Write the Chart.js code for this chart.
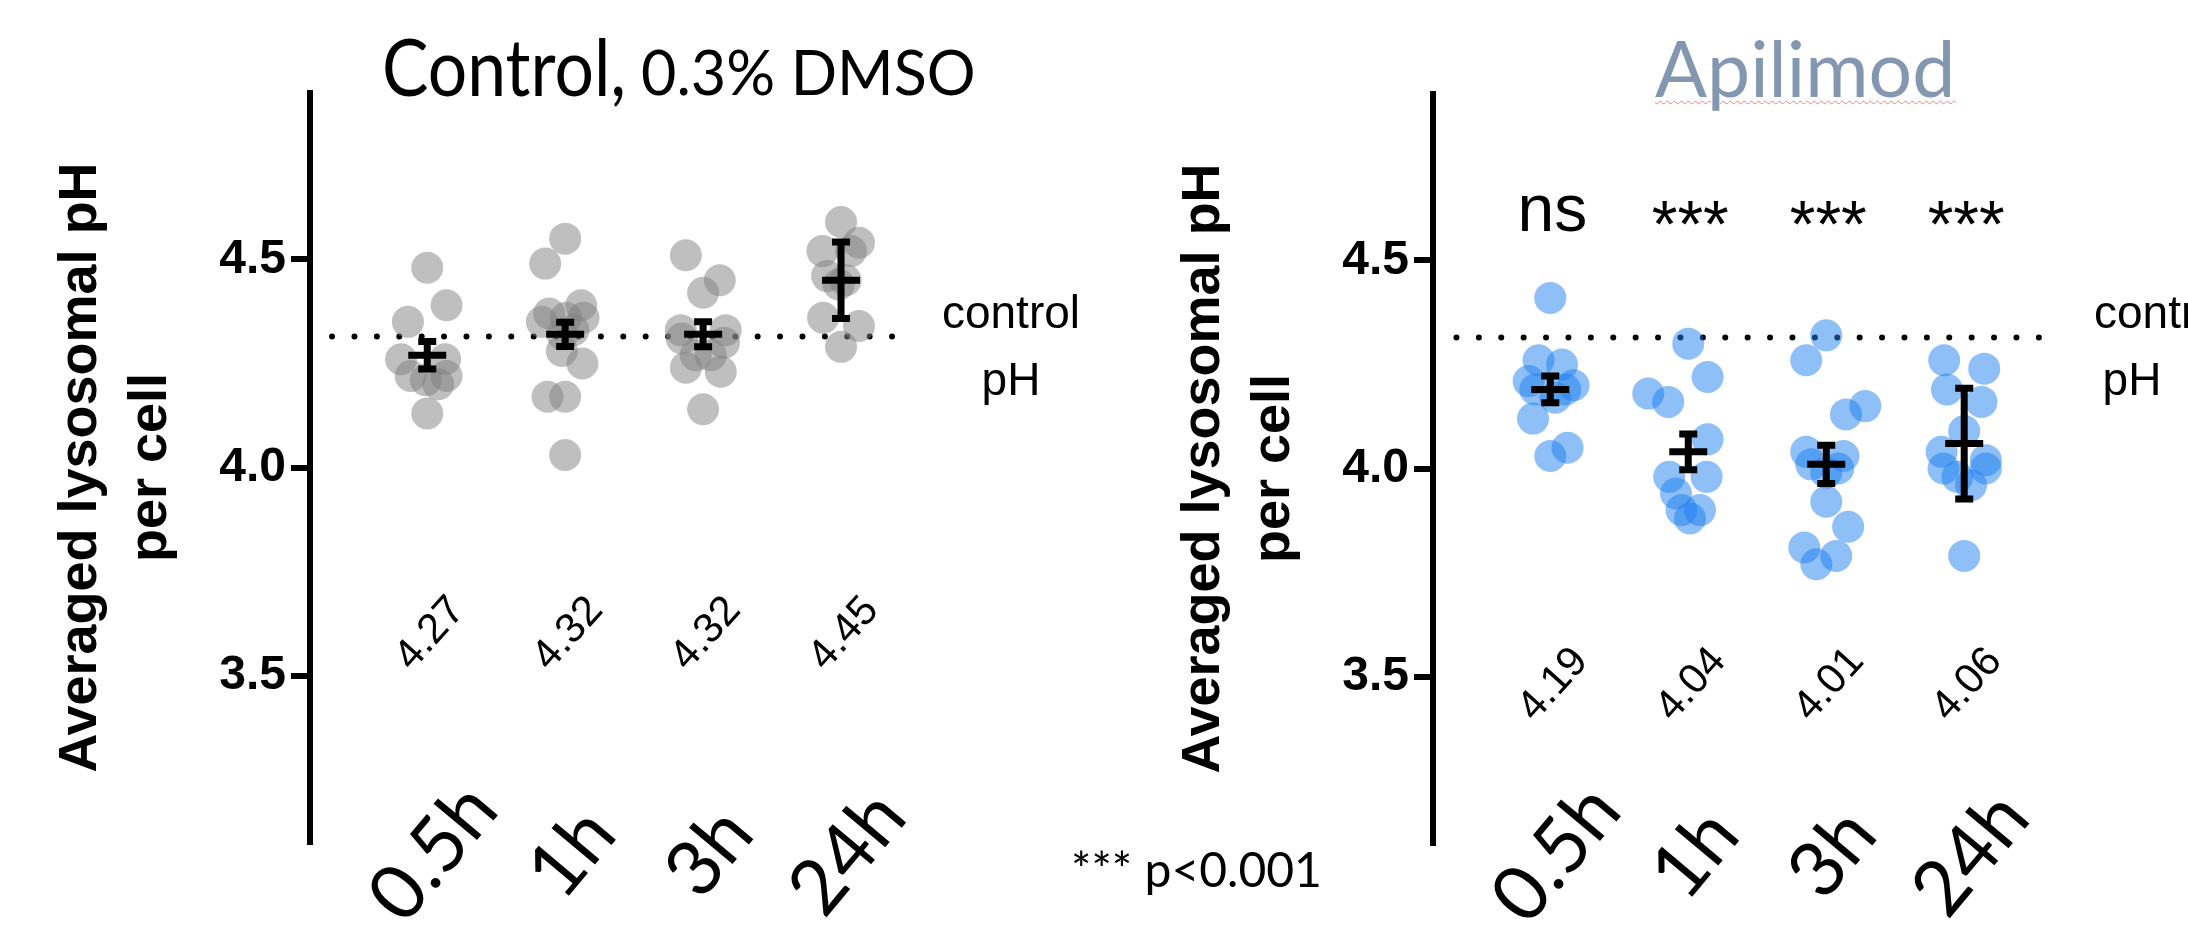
<!DOCTYPE html>
<html>
<head>
<meta charset="utf-8">
<script src="https://cdn.jsdelivr.net/npm/chart.js@4.4.1/dist/chart.umd.min.js"></script>
<style>
  html, body { margin: 0; padding: 0; background: #fff; }
  body { position: relative; width: 2188px; height: 936px; overflow: hidden; }
  canvas { position: absolute; top: 0; }
  #cvCtrl { left: 0; }
  #cvApi { left: 1123px; }
  .txt { position: absolute; white-space: nowrap; line-height: 1; color: #000; }
  .calibri { font-family: Lato, "Open Sans", sans-serif; }
  .helv { font-family: "Liberation Sans", Arial, sans-serif; }
</style>
</head>
<body>
<canvas id="cvCtrl" width="1100" height="936"></canvas>
<canvas id="cvApi" width="1065" height="936"></canvas>

<div class="txt calibri" style="left:382px; top:25px; font-size:80px; transform:scaleX(0.87); transform-origin:left;">Control,</div>
<div class="txt calibri" style="left:641px; top:41px; font-size:61px;">0.3% DMSO</div>
<div class="txt calibri" style="left:1655px; top:29px; font-size:77px; color:#8497b0; text-decoration:underline wavy #f08080; text-decoration-thickness:1px; text-underline-offset:3px;">Apilimod</div>

<div class="txt helv" style="left:911px; top:279px; width:200px; text-align:center; font-size:46px; line-height:67px;">control<br>pH</div>
<div class="txt helv" style="left:2094px; top:279px; font-size:46px; line-height:67px;">control</div>
<div class="txt helv" style="left:2032px; top:346px; width:200px; text-align:center; font-size:46px; line-height:67px;">pH</div>

<div class="txt calibri" style="left:1071px; top:845px; font-size:48px;">*** p&lt;0.001</div>

<script>
const times = ['0.5h', '1h', '3h', '24h'];
const yTicks = [3.5, 4.0, 4.5];
const controlPH = 4.315;

// Control, 0.3% DMSO - pH of each cell, and the sideways spread of its dot (in group widths)
const ctrlPH05 = [4.48, 4.39, 4.35, 4.26, 4.26, 4.22, 4.21, 4.20, 4.22, 4.13];
const ctrlDx05 = [0, 0.14, -0.14, -0.19, 0.13, -0.12, -0.01, 0.08, 0.14, 0];
const ctrlPH1  = [4.55, 4.49, 4.28, 4.25, 4.17, 4.17, 4.03, 4.37, 4.35, 4.32, 4.39, 4.36, 4.33, 4.36];
const ctrlDx1  = [0, -0.145, -0.024, 0.125, -0.128, 0, 0, -0.116, -0.169, -0.02, 0.116, 0.133, 0.06, 0.005];
const ctrlPH3  = [4.51, 4.45, 4.42, 4.33, 4.33, 4.31, 4.30, 4.27, 4.27, 4.24, 4.23, 4.14];
const ctrlDx3  = [-0.125, 0.121, 0, -0.162, 0.164, -0.154, 0.152, -0.053, 0.056, -0.125, 0.128, 0];
const ctrlPH24 = [4.59, 4.54, 4.52, 4.52, 4.46, 4.45, 4.44, 4.36, 4.34, 4.29];
const ctrlDx24 = [0, 0.13, -0.135, 0.072, -0.101, 0.034, -0.017, -0.13, 0.13, 0];
const ctrlMean = [4.27, 4.32, 4.32, 4.45];
const ctrlSem  = [0.033, 0.029, 0.030, 0.092];

// Apilimod
const apiPH05 = [4.41, 4.26, 4.25, 4.21, 4.20, 4.19, 4.19, 4.17, 4.12, 4.03, 4.05];
const apiDx05 = [0, -0.085, 0.085, -0.157, 0.169, -0.109, 0.109, 0.036, -0.125, 0, 0.125];
const apiPH1  = [4.30, 4.22, 4.18, 4.16, 4.07, 3.98, 3.98, 3.94, 3.90, 3.90, 3.88];
const apiDx1  = [0, 0.14, -0.29, -0.145, 0.14, -0.138, 0.133, -0.089, -0.049, 0.085, 0.012];
const apiPH3  = [4.32, 4.26, 4.15, 4.13, 4.04, 4.03, 4.01, 3.99, 4.00, 3.92, 3.86, 3.81, 3.79, 3.77];
const apiDx3  = [0, -0.145, 0.283, 0.143, -0.145, 0.125, -0.109, 0, 0.087, 0, 0.159, -0.159, 0.072, -0.072];
const apiPH24 = [4.26, 4.24, 4.19, 4.16, 4.09, 4.04, 4.02, 4.00, 4.00, 3.98, 3.96, 3.79];
const apiDx24 = [-0.145, 0.145, -0.125, 0.125, 0, -0.164, 0.157, -0.15, 0.157, -0.049, 0.049, 0];
const apiMean = [4.19, 4.04, 4.01, 4.06];
const apiSem  = [0.032, 0.043, 0.046, 0.133];
const apiSig  = ['ns', '***', '***', '***'];

function centeredText(ctx, text, x, y, deg, font) {
  ctx.save();
  ctx.font = font;
  ctx.textAlign = 'center';
  ctx.textBaseline = 'alphabetic';
  const m = ctx.measureText(text);
  ctx.translate(x, y);
  ctx.rotate(deg * Math.PI / 180);
  ctx.fillText(text, 0, (m.actualBoundingBoxAscent - m.actualBoundingBoxDescent) / 2);
  ctx.restore();
}

// mean +/- error bars, the tilted mean values, time labels and stars
const annotations = {
  id: 'annotations',
  afterDatasetsDraw(chart, args, o) {
    const { ctx, chartArea, scales: { x, y } } = chart;
    ctx.save();
    ctx.strokeStyle = '#000';
    ctx.fillStyle = '#000';
    o.means.forEach((m, i) => {
      const cx = x.getPixelForValue(i + 1);
      const hi = y.getPixelForValue(m + o.sem[i]);
      const lo = y.getPixelForValue(m - o.sem[i]);
      const my = y.getPixelForValue(m);
      ctx.lineWidth = 7;
      ctx.beginPath();
      ctx.moveTo(cx, hi); ctx.lineTo(cx, lo);
      ctx.moveTo(cx - 9, hi); ctx.lineTo(cx + 9, hi);
      ctx.moveTo(cx - 9, lo); ctx.lineTo(cx + 9, lo);
      ctx.moveTo(cx - 19, my); ctx.lineTo(cx + 19, my);
      ctx.stroke();

      centeredText(ctx, m.toFixed(2), cx + 1, y.getPixelForValue(o.meanLabelAt), -48, '42px "Liberation Sans"');
      centeredText(ctx, times[i], cx + 4, chartArea.bottom + 9, -50, '77px Lato');
      if (o.sig) centeredText(ctx, o.sig[i], cx + 2, chartArea.top + 119, 0, '66px "Liberation Sans"');
    });
    ctx.restore();
  }
};

function buildPanel(id, o) {
  const pts = o.vals.flatMap((vals, i) => vals.map((v, k) => ({ x: i + 1 + o.dx[i][k], y: v })));
  return new Chart(document.getElementById(id), {
    type: 'scatter',
    data: {
      datasets: [
        {
          type: 'line',
          data: o.refSpan.map(x => ({ x, y: controlPH })),
          borderColor: '#000',
          borderWidth: 6,
          borderDash: [0, 22.4],
          borderCapStyle: 'round',
          pointRadius: 0,
          order: 2
        },
        {
          data: pts,
          pointRadius: 16,
          pointHoverRadius: 16,
          backgroundColor: o.dotColor,
          borderWidth: 0,
          order: 1
        }
      ]
    },
    plugins: [annotations],
    options: {
      responsive: false,
      animation: false,
      events: [],
      layout: { padding: { left: 0, top: o.top, right: o.right, bottom: 936 - o.top - 749 } },
      plugins: {
        legend: { display: false },
        tooltip: { enabled: false },
        annotations: { means: o.means, sem: o.sem, meanLabelAt: o.meanLabelAt, sig: o.sig }
      },
      scales: {
        x: { type: 'linear', min: 0.15, max: o.xMax, display: false },
        y: {
          min: 3.1,
          max: 4.9,
          afterBuildTicks: s => { s.ticks = yTicks.map(v => ({ value: v })); },
          afterFit: s => { s.width = 310; },
          ticks: {
            color: '#000',
            padding: 5,
            font: { family: '"Liberation Sans", Arial', size: 48, weight: 'bold' },
            callback: v => v.toFixed(1)
          },
          grid: { drawOnChartArea: false, drawTicks: true, tickLength: 19, lineWidth: 6, color: '#000' },
          border: { display: true, width: 6, color: '#000' },
          title: {
            display: true,
            text: ['Averaged lysosomal pH', 'per cell'],
            color: '#000',
            padding: { top: 46, bottom: 0 },
            font: { family: '"Liberation Sans", Arial', size: 54, weight: 'bold', lineHeight: 1.3 }
          }
        }
      }
    }
  });
}

buildPanel('cvCtrl', {
  vals: [ctrlPH05, ctrlPH1, ctrlPH3, ctrlPH24],
  dx: [ctrlDx05, ctrlDx1, ctrlDx3, ctrlDx24],
  means: ctrlMean, sem: ctrlSem,
  dotColor: 'rgba(128,128,128,0.5)',
  refSpan: [0.31, 4.5],
  meanLabelAt: 3.605,
  top: 93, right: 190, xMax: 4.5
});

buildPanel('cvApi', {
  vals: [apiPH05, apiPH1, apiPH3, apiPH24],
  dx: [apiDx05, apiDx1, apiDx3, apiDx24],
  means: apiMean, sem: apiSem, sig: apiSig,
  dotColor: 'rgba(30,128,240,0.5)',
  refSpan: [0.32, 4.56],
  meanLabelAt: 3.485,
  top: 94, right: 141, xMax: 4.6
});
</script>
</body>
</html>
